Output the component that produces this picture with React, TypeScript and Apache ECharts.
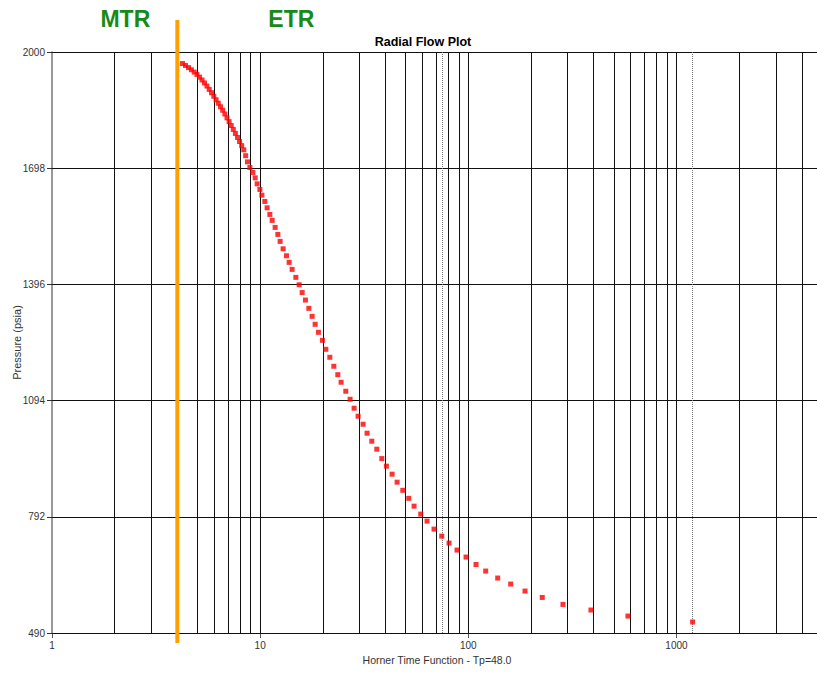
import React, { useEffect, useRef } from "react";
import * as echarts from "echarts";

// Horner time function (tp+dt)/dt, Tp = 48.0
const hornerTime = [
  4.236, 4.378, 4.526, 4.674, 4.823, 4.968, 5.113, 5.256, 5.403, 5.548,
  5.691, 5.837, 5.987, 6.142, 6.293, 6.449, 6.607, 6.769, 6.928, 7.091,
  7.258, 7.428, 7.602, 7.78, 7.963, 8.15, 8.343, 8.52, 8.69, 8.925,
  9.226, 9.464, 9.674, 9.968, 10.19, 10.53, 10.8, 11.13, 11.42, 11.8,
  12.16, 12.47, 12.89, 13.38, 13.78, 14.24, 14.84, 15.39, 15.91, 16.5,
  17.13, 17.77, 18.37, 19.05, 19.91, 20.68, 21.61, 22.59, 23.6, 24.48,
  25.78, 27.04, 28.27, 29.54, 31.22, 32.63, 34.37, 36.33, 38.4, 40.4,
  43.03, 45.48, 48.43, 51.75, 54.87, 59.08, 63.34, 68.44, 74.54, 80.79,
  88.25, 97.5, 108.9, 121.2, 138.4, 159.8, 187.2, 226.5, 284.8, 388.2,
  584.6, 1195,
];

// Pressure (psia)
const pressure = [
  1970, 1965, 1959.5, 1953.8, 1947.8, 1941.6, 1934.6, 1927.3, 1919.5, 1911.5,
  1902.9, 1894.1, 1885, 1875.9, 1866.8, 1857.7, 1848.6, 1838.8, 1828.9, 1819,
  1808.9, 1798.8, 1788.4, 1778, 1767.4, 1756.7, 1745.8, 1730.5, 1714.4, 1699.9,
  1686.9, 1672.9, 1657.3, 1642.8, 1628, 1611.6, 1595, 1577.8, 1562.3, 1544.1,
  1525.9, 1507.7, 1488.5, 1470.4, 1453.2, 1435, 1414.3, 1395.1, 1374.8, 1355.3,
  1333.8, 1313, 1292.3, 1271.5, 1250.7, 1227.3, 1206.6, 1183.2, 1161.4, 1141.7,
  1118.3, 1097.5, 1074.2, 1053.4, 1032.6, 1009.3, 988.5, 967.7, 943.3, 923.6,
  902.8, 882, 860.8, 840, 819.7, 799, 780.8, 760, 741.8, 723.7,
  705.5, 687.3, 668.1, 651, 632.8, 617.2, 599, 582.4, 564.3, 549.7,
  534.1, 518.6,
];

const xMin = 1;
const xMax = 5000;
const yMin = 490;
const yMax = 2000;
const yTicks = [490, 792, 1094, 1396, 1698, 2000];
const xLabelTicks = [1, 10, 100, 1000];
const decades = [1, 10, 100, 1000];
const multiples = [1, 2, 3, 4, 5, 6, 7, 8, 9];
const dottedMarkers = [74.54, 1195];
const regionBoundary = 4;
const regionLabels = ["MTR", "ETR"];

const chartTitle = "Radial Flow Plot";
const xName = "Horner Time Function - Tp=48.0";
const yName = "Pressure (psia)";

const FONT = "'Liberation Sans', Arial, sans-serif";

export default function App() {
  const ref = useRef<HTMLDivElement>(null);

  useEffect(() => {
    if (!ref.current) return;
    const chart = echarts.init(ref.current, null, { renderer: "svg" });

    const xGridLines: number[] = [];
    decades.forEach((d) =>
      multiples.forEach((m) => {
        const v = d * m;
        if (v > xMin && v < xMax) xGridLines.push(v);
      })
    );

    chart.setOption({
      animation: false,
      grid: {
        left: 52,
        top: 52,
        right: -5,
        bottom: 40,
        containLabel: false,
        outerBoundsMode: "none",
      },
      xAxis: {
        type: "log",
        logBase: 10,
        min: xMin,
        max: xMax,
        name: xName,
        nameLocation: "middle",
        nameGap: 21,
        nameMoveOverlap: false,
        nameTextStyle: { fontFamily: FONT, fontSize: 10.5, color: "#333" },
        axisLine: { show: true, lineStyle: { color: "#000", width: 1 } },
        axisTick: {
          show: true,
          length: 5,
          customValues: xLabelTicks,
          lineStyle: { color: "#555" },
        },
        axisLabel: {
          customValues: xLabelTicks,
          formatter: (v: number) => String(v),
          fontFamily: FONT,
          fontSize: 10,
          color: "#333",
          margin: 7,
        },
        splitLine: { show: false },
        minorTick: { show: false },
        minorSplitLine: { show: false },
      },
      yAxis: {
        type: "value",
        min: yMin,
        max: yMax,
        name: yName,
        nameLocation: "middle",
        nameGap: 30,
        nameMoveOverlap: false,
        nameTextStyle: { fontFamily: FONT, fontSize: 11, color: "#333" },
        axisLine: { show: true, lineStyle: { color: "#777", width: 1.5 } },
        axisTick: {
          show: true,
          length: 5,
          customValues: yTicks,
          lineStyle: { color: "#333" },
        },
        axisLabel: {
          customValues: yTicks,
          formatter: (v: number) => String(v),
          fontFamily: FONT,
          fontSize: 10,
          color: "#333",
          margin: 7,
        },
        splitLine: { show: false },
      },
      series: [
        {
          type: "line",
          data: [],
          silent: true,
          z: 1,
          markLine: {
            silent: true,
            symbol: ["none", "none"],
            animation: false,
            label: { show: false },
            emphasis: { disabled: true },
            lineStyle: { color: "#111", width: 1, type: "solid" },
            data: [
              ...xGridLines.map((v) => ({ xAxis: v })),
              ...yTicks.map((v) => ({ yAxis: v })),
            ],
          },
        },
        {
          type: "line",
          data: [],
          silent: true,
          z: 2,
          markLine: {
            silent: true,
            symbol: ["none", "none"],
            animation: false,
            label: { show: false },
            emphasis: { disabled: true },
            lineStyle: { color: "#777", width: 1, type: "dotted" },
            data: dottedMarkers.map((v) => ({ xAxis: v })),
          },
        },
        {
          type: "scatter",
          z: 5,
          symbol: "rect",
          symbolSize: 5,
          itemStyle: { color: "#ff0000" },
          data: hornerTime.map((x, i) => [x, pressure[i]]),
        },
      ],
    });

    const bx = chart.convertToPixel({ xAxisIndex: 0 }, regionBoundary) as number;
    const topY = chart.convertToPixel({ yAxisIndex: 0 }, yMax) as number;
    const botY = chart.convertToPixel({ yAxisIndex: 0 }, yMin) as number;
    const x0 = chart.convertToPixel({ xAxisIndex: 0 }, xMin) as number;
    const x1 = chart.convertToPixel({ xAxisIndex: 0 }, xMax) as number;

    chart.setOption({
      graphic: [
        {
          type: "line",
          z: 10,
          shape: { x1: bx, y1: topY - 32, x2: bx, y2: botY + 10 },
          style: { stroke: "#FFA000", lineWidth: 4 },
        },
        {
          type: "text",
          z: 10,
          x: bx - 52,
          y: topY - 33,
          style: {
            text: regionLabels[0],
            font: `bold 23px ${FONT}`,
            fill: "#178A17",
            align: "center",
            verticalAlign: "middle",
          },
        },
        {
          type: "text",
          z: 10,
          x: bx + 114,
          y: topY - 33,
          style: {
            text: regionLabels[1],
            font: `bold 23px ${FONT}`,
            fill: "#178A17",
            align: "center",
            verticalAlign: "middle",
          },
        },
        {
          type: "text",
          z: 10,
          x: (x0 + x1) / 2 - 14,
          y: topY - 10,
          style: {
            text: chartTitle,
            font: `bold 12.5px ${FONT}`,
            fill: "#000",
            align: "center",
            verticalAlign: "middle",
          },
        },
      ],
    });

    return () => chart.dispose();
  }, []);

  return (
    <div
      ref={ref}
      style={{ position: "absolute", left: 0, top: 0, width: 817, height: 673, background: "#fff" }}
    />
  );
}
